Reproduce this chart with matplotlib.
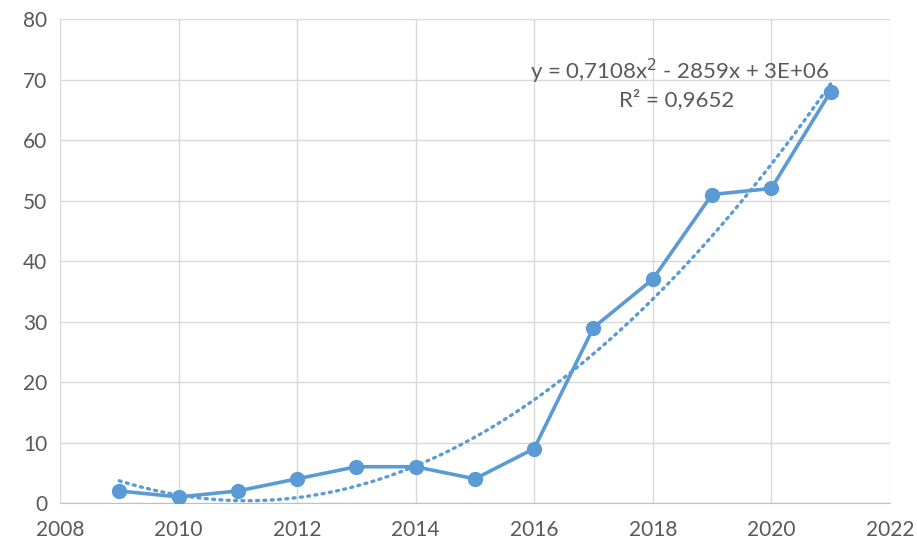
import numpy as np
import matplotlib
matplotlib.use("Agg")
import matplotlib.pyplot as plt

plt.rcParams['font.family'] = ['Lato', 'DejaVu Sans']

# data
years = [2009, 2010, 2011, 2012, 2013, 2014, 2015, 2016, 2017, 2018, 2019, 2020, 2021]
counts = [2, 1, 2, 4, 6, 6, 4, 9, 29, 37, 51, 52, 68]
x_ticks = [2008, 2010, 2012, 2014, 2016, 2018, 2020, 2022]
y_ticks = [0, 10, 20, 30, 40, 50, 60, 70, 80]
eq_text = "y = 0,7108x$^2$ - 2859x + 3E+06"
r2_text = "R² = 0,9652"

blue = '#5B9BD5'
grey_text = '#595959'
grid_col = '#D9D9D9'

fig = plt.figure(figsize=(9.17, 5.45), dpi=100)
ax = fig.add_axes([0.0654, 0.077, 0.905, 0.888])

# polynomial trendline (order 2), computed from the data
xs = np.array(years, dtype=float)
coef = np.polyfit(xs - 2015, counts, 2)
xt = np.linspace(xs.min(), xs.max(), 200)
ax.plot(xt, np.polyval(coef, xt - 2015), color=blue, lw=2.4, ls=(0, (0.6, 1.6)),
        dash_capstyle='round', zorder=2)

ax.plot(years, counts, color=blue, lw=2.6, marker='o', markersize=10, zorder=3)

ax.set_xlim(2008, 2022)
ax.set_ylim(0, 80)
ax.set_xticks(x_ticks)
ax.set_yticks(y_ticks)
ax.grid(True, color=grid_col, lw=1)
ax.set_axisbelow(True)
for s in ['top', 'right', 'left']:
    ax.spines[s].set_visible(False)
ax.spines['bottom'].set_color('#BFBFBF')
ax.tick_params(length=0, labelsize=15, labelcolor=grey_text)
ax.tick_params(axis='x', pad=12)
ax.tick_params(axis='y', pad=9)

ax.text(2018.45, 71.3, eq_text, ha='center', va='center', fontsize=16, color=grey_text)
ax.text(2018.4, 66.7, r2_text, ha='center', va='center', fontsize=16, color=grey_text)

fig.savefig('out.png', dpi=100)
